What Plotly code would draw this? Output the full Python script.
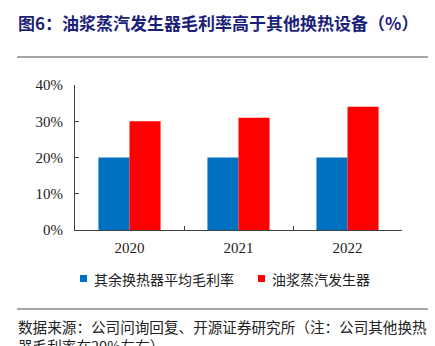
import plotly.graph_objects as go

years = ["2020", "2021", "2022"]
other_avg = [0.20, 0.20, 0.20]
steam_gen = [0.30, 0.31, 0.34]
series_names = ["其余换热器平均毛利率", "油浆蒸汽发生器"]
series_colors = ["#0070C0", "#FF0000"]
y_ticks = [0, 0.1, 0.2, 0.3, 0.4]
y_tick_text = ["0%", "10%", "20%", "30%", "40%"]

title_text = "图6：油浆蒸汽发生器毛利率高于其他换热设备（%）"
source_text = "数据来源：公司问询回复、开源证券研究所（注：公司其他换热<br>器毛利率在20%左右）"

W, H = 435, 346
L, R, T, B = 75, 33, 85, 116
PW, PH = W - L - R, H - T - B

cjk = "Noto Sans CJK SC"
serif = "Liberation Serif, Times New Roman, serif"


def px_x(x):
    return (x - L) / PW


def px_y(y):
    return 1 - (y - T) / PH


fig = go.Figure()
for vals, name, col in zip([other_avg, steam_gen], series_names, series_colors):
    fig.add_trace(go.Bar(x=years, y=vals, name=name, showlegend=False,
                         marker=dict(color=col, line=dict(width=0))))

fig.update_layout(
    width=W, height=H,
    margin=dict(l=L, r=R, t=T, b=B),
    paper_bgcolor="white", plot_bgcolor="white",
    barmode="group", bargap=0.43, bargroupgap=0,
    xaxis=dict(type="category", showline=True, linecolor="#404040", linewidth=1,
               ticks="inside", ticklen=4, tickcolor="#404040", tickson="boundaries",
               ticklabelstandoff=4,
               tickfont=dict(family=serif, size=15, color="#222"),
               showgrid=False, zeroline=False),
    yaxis=dict(range=[0, 0.4], tickvals=y_ticks, ticktext=y_tick_text,
               showline=True, linecolor="#404040", linewidth=1,
               ticks="inside", ticklen=4, tickcolor="#404040",
               ticklabelstandoff=8,
               tickfont=dict(family=serif, size=15, color="#222"),
               showgrid=False, zeroline=False),
    font=dict(family=cjk),
)

# legend: small coloured squares followed by the series names
legend_x = [80, 258]
for lx, name, col in zip(legend_x, series_names, series_colors):
    fig.add_shape(type="rect", xref="paper", yref="paper",
                  x0=px_x(lx), x1=px_x(lx + 7), y0=px_y(282), y1=px_y(275),
                  fillcolor=col, line=dict(width=0))
    fig.add_annotation(text=name, xref="paper", yref="paper",
                       x=px_x(lx + 12), y=px_y(278.5), xanchor="left", yanchor="middle",
                       showarrow=False, font=dict(family=cjk, size=14, color="#222"))

# title
fig.add_annotation(text="<b>" + title_text + "</b>", xref="paper", yref="paper",
                   x=px_x(16), y=px_y(22), xanchor="left", yanchor="middle",
                   showarrow=False,
                   font=dict(family=cjk, size=17, color="#1B1F7A"))
# source note
fig.add_annotation(text=source_text, xref="paper", yref="paper",
                   x=px_x(16), y=px_y(314), xanchor="left", yanchor="top",
                   align="left", showarrow=False,
                   font=dict(family=cjk, size=14.6, color="#222"))

# horizontal rules under the title and above the source note
for ypix in (57, 309):
    fig.add_shape(type="line", xref="paper", yref="paper",
                  x0=px_x(17), x1=px_x(428), y0=px_y(ypix), y1=px_y(ypix),
                  line=dict(color="#888888", width=1.5))

fig.write_html("out.html")
